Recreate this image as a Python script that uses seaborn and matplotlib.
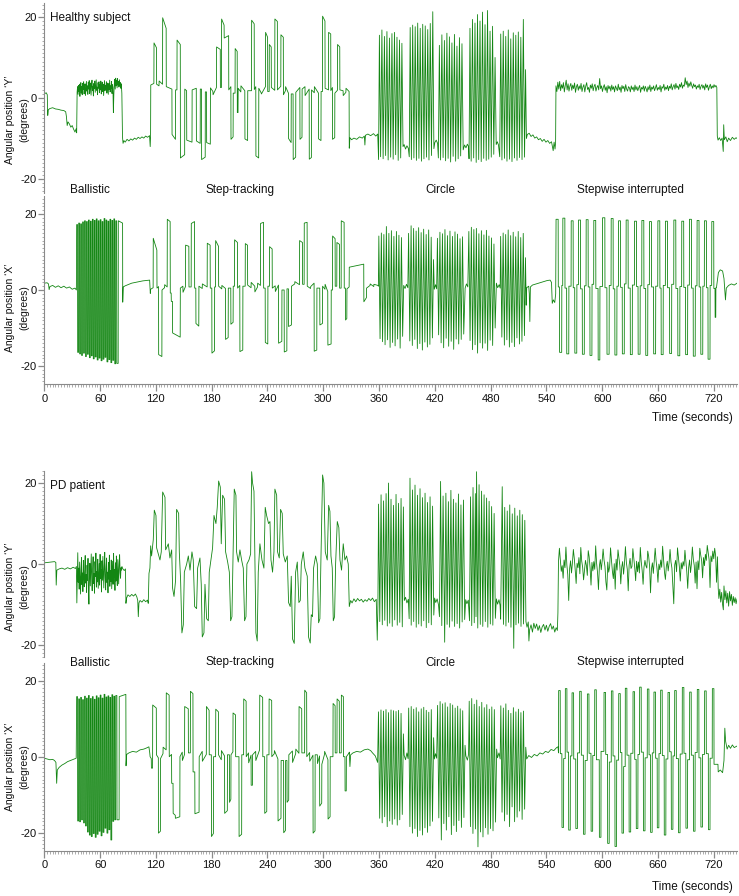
import numpy as np
import pandas as pd
import matplotlib
matplotlib.use("Agg")
import matplotlib.pyplot as plt
import seaborn as sns
from matplotlib.ticker import MultipleLocator

# angles in degrees, time in seconds
# pieces: (t, v) polylines, held levels (t, v[, v_end]) and evenly sampled noise bands

# ---------------- healthy subject, Y ----------------
hy_rest_a = [(0, 1.0), (2.0, 1.3), (3.2, 0.8), (3.7, -4.3), (4.3, -2.9), (6, -2.6), (9, -2.4),
             (12, -2.7), (15, -2.8), (18, -3.0), (21, -3.1), (23, -3.4), (23.8, -4.6), (24.6, -6.8),
             (25.5, -5.9), (27, -6.4), (28.5, -7.2), (30, -6.8), (31.5, -7.7), (33, -8.4),
             (34.2, -7.6), (34.8, -8.6)]
hy_ballistic_start = 35.3
hy_ballistic = [1.5, 2.8, 0.9, 3.1, 1.6, 3.4, 0.4, 2.6, 3.8, 1.2,
                2.9, 0.8, 3.6, 2.1, 4.0, 1.0, 2.7, 3.5, 0.6, 2.4,
                4.1, 1.7, 3.0, 0.9, 3.9, 2.2, 4.3, 1.1, 2.6, 3.7,
                0.7, 3.2, 4.4, 1.8, 2.9, 0.5, 3.6, 2.3, 4.2, 1.4,
                3.0, 4.5, 1.9, 2.7, 0.8, 3.8, 2.4, 4.0, 1.3, 3.3,
                2.0, 4.2, 1.0, 2.8, 3.9, 1.6, 3.4, 0.6, 2.5, 4.3,
                1.8, 3.1, 2.2, 4.0, 1.2, 2.9, 3.7, 0.9, 3.5, 2.1,
                4.4, 1.5, 3.0, 2.4, 4.1, 1.1, 3.3, 2.6, -3.6, 1.0,
                3.4, 4.6, 2.2, 4.9, 3.0, 4.4, 2.5, 4.8, 3.2, 4.1,
                2.7, 4.5, 3.0, 3.8, 2.4, 3.5]
hy_rest_b = [(83.4, 1.2), (84.1, -9.6), (84.7, -11.2), (85.6, -10.5), (87, -10.9), (89, -10.2),
             (91, -10.6), (93, -10.1), (95, -10.4), (97, -9.9), (99, -10.2), (101, -9.7),
             (103, -10.0), (105, -9.6), (107, -9.9), (109, -9.4), (111, -9.7), (113.2, -9.3),
             (113.9, -12.0), (114.3, -9.5)]
hy_step = [(114.5, 3.2, 3.6), (118.0, 13.6, 12.4), (120.8, 3.4, 3.0), (123.5, 4.2, 3.4),
           (127.3, 19.8, 17.2), (131.2, 2.8, 2.2), (137.4, -9.0, -10.2), (141.2, 2.0),
           (142.8, 14.3, 13.2), (146.4, -14.8, -14.0), (151.1, 2.2, 1.8), (153.2, -10.4, -10.9),
           (159.0, 2.0, 2.4), (163.6, -10.6, -11.2), (167.8, 2.2), (169.2, -15.2, -14.6),
           (173.2, 1.5), (174.6, -11.0, -11.4), (178.7, 2.5, 1.6), (181.5, 0.8, 2.6),
           (185.3, 12.6, 12.0), (189.4, 2.6), (190.7, 19.5, 18.0), (193.5, 14.8, 15.4),
           (198.4, 2.0, 2.8), (200.8, -10.2, -9.6), (203.2, 1.2), (205.3, 12.2, 11.5),
           (207.6, -3.6), (208.5, 2.4, 1.5), (211.5, 3.0, 1.8), (215.8, -10.1, -10.5),
           (218.8, 1.8), (223.0, 19.2, 18.3), (225.9, 2.1, 2.8), (227.6, -14.3, -14.8),
           (230.7, 2.4, 1.2), (233.5, 1.0, 2.8), (238.0, 16.2, 15.0), (240.3, 1.6),
           (242.0, 13.2, 12.6), (244.2, 2.6, 1.9), (248.0, 19.5, 18.9), (250.8, 2.0, 2.9),
           (254.5, 15.6, 15.0), (257.2, 0.8, 1.8), (259.5, 2.8, 1.2), (262.7, -10.0, -11.0),
           (265.6, 1.0), (267.7, -15.2, -14.6), (270.5, 1.4, 2.6), (275.0, -10.2, -9.7),
           (277.3, 2.2, 2.8), (280.5, 0.6, 2.2), (285.0, -15.1, -14.7), (287.4, 2.0, 1.3),
           (290.5, 2.8, 1.2), (295.0, -10.1, -10.5), (297.7, 1.6), (299.3, 20.2, 19.0),
           (302.0, 2.4, 2.0), (305.8, 16.2, 15.8), (308.2, 1.8, 2.6), (310.0, -10.2, -9.8),
           (312.5, 1.2, 1.9), (315.4, 13.2, 12.6), (317.9, 2.0, 1.8), (321.5, 0.6, 1.4),
           (324.5, 2.4, 1.6)]
hy_rest_c = [(328.0, -12.4), (328.7, -9.8), (330.5, -10.3), (333, -9.9), (336, -10.2), (339, -9.6),
             (342, -9.9), (344.2, -9.4), (344.8, -11.6), (345.4, -9.2), (348, -8.9), (351, -9.3),
             (354, -8.8), (356.5, -9.4), (358.6, -8.9)]
hy_circle = [(359.5, -15.2), (360.4, 15.5), (361.7, -14.5), (363.1, 16.8), (364.4, -15.0), (365.8, 15.2),
             (367.1, -14.2), (368.5, 16.4), (369.8, -15.3), (371.2, 14.8), (372.5, -14.6), (373.9, 15.9),
             (375.2, -15.1), (376.6, 16.2), (377.9, -14.0), (379.3, 15.0), (380.6, -15.4), (382.0, 14.3),
             (383.3, -14.8), (384.6, 13.5), (385.8, -12.0),
             (387.0, -11.5), (388.5, -12.6), (390.0, -11.8), (391.5, -12.4),
             (392.5, -14.5), (393.5, 17.4), (394.8, -15.2), (396.2, 18.0), (397.5, -14.8), (398.9, 17.6),
             (400.2, -15.4), (401.6, 18.5), (402.9, -14.9), (404.3, 17.2), (405.6, -15.6), (407.0, 18.2),
             (408.3, -15.0), (409.7, 17.8), (411.0, -14.6), (412.4, 16.9), (413.7, -15.3), (415.1, 18.4),
             (416.4, -14.2), (417.8, 21.3), (419.0, -12.5),
             (420.0, -11.0), (421.5, -10.4), (423.0, -11.2),
             (423.8, -14.8), (424.9, 13.0), (426.2, -15.3), (427.6, 15.6), (428.9, -14.7), (430.3, 14.2),
             (431.6, -15.5), (433.0, 16.0), (434.3, -14.9), (435.7, 15.1), (437.0, -15.8), (438.4, 13.6),
             (439.7, -14.4), (441.1, 15.7), (442.4, -15.6), (443.8, 12.8), (445.1, -15.0), (446.5, 14.9),
             (447.8, -14.3), (449.2, 13.4), (450.5, -12.8),
             (452.0, -11.6), (453.5, -12.3), (455.0, -11.4), (456.3, -12.0),
             (456.8, -15.0), (457.8, 17.2), (459.1, -15.6), (460.5, 19.4), (461.8, -14.8), (463.2, 18.5),
             (464.5, -15.9), (465.9, 20.6), (467.2, -15.2), (468.6, 19.0), (469.9, -15.7), (471.3, 21.2),
             (472.6, -14.9), (474.0, 18.1), (475.3, -15.4), (476.7, 21.6), (478.0, -15.1), (479.4, 16.5),
             (480.7, -14.6), (482.1, 17.7), (483.4, -13.9), (484.8, 10.0), (486.0, -11.5),
             (487.2, -10.8), (488.5, -11.6),
             (489.8, -14.5), (490.9, 15.8), (492.2, -15.3), (493.6, 16.5), (494.9, -14.9), (496.3, 15.2),
             (497.6, -15.6), (499.0, 16.8), (500.3, -15.1), (501.7, 14.6), (503.0, -15.7), (504.4, 16.1),
             (505.7, -14.8), (507.1, 15.5), (508.4, -15.4), (509.8, 16.3), (511.1, -14.7), (512.5, 15.0),
             (513.8, -15.2), (515.2, 19.4), (516.5, -14.6), (517.6, 7.0), (518.5, -10.0)]
hy_rest_d = [(519.5, -9.0), (521.5, -8.7), (523.5, -9.5), (525.5, -9.1), (527.5, -9.9), (529.5, -9.6),
             (531.5, -10.3), (533.5, -10.0), (535.5, -10.7), (537.5, -10.2), (539.5, -10.9),
             (541.5, -10.5), (543.5, -11.2), (545.5, -10.8), (547.3, -13.0), (548.3, -10.9),
             (549.3, -12.6), (549.9, -11.0)]
hy_stepwise_start = 550.3
hy_stepwise = [3.0, 1.6, 3.9, 2.2, 4.1, 1.8, 3.3, 2.4, 3.8, 1.5, 3.1, 4.4, 2.0, 3.5, 1.7, 2.9, 3.6, 1.9, 3.2, 2.3,
               3.7, 1.4, 2.8, 3.4, 1.9, 3.0, 2.2, 3.6, 1.6, 2.7, 3.3, 1.5, 2.9, 3.8, 2.1, 2.6, 1.4, 3.2, 2.4, 3.5,
               1.8, 2.9, 3.4, 1.7, 2.6, 3.1, 2.0, 4.8, 2.3, 3.0, 1.6, 2.7, 3.3, 1.9, 2.8, 1.3, 3.1, 2.2, 2.9, 1.7,
               3.2, 2.1, 2.8, 1.5, 3.0, 2.4, 1.8, 3.4, 2.0, 2.7, 1.4, 3.1, 2.3, 2.9, 1.6, 3.3, 2.2, 1.7, 2.8, 2.5,
               1.5, 3.0, 2.1, 2.7, 1.6, 3.2, 2.0, 2.8, 1.8, 2.5, 3.1, 1.4, 2.6, 2.2, 3.0, 1.7, 2.9, 2.3, 1.5, 2.8,
               2.0, 3.2, 1.6, 2.7, 2.2, 3.0, 1.8, 2.5, 3.3, 1.9, 2.6, 2.1, 3.1, 1.5, 2.8, 2.4, 3.4, 1.9, 2.7, 2.2,
               3.1, 1.8, 2.9, 2.4, 3.5, 2.0, 2.8, 3.3, 2.2, 3.6, 2.5, 3.0, 2.1, 3.4, 2.7, 3.8, 2.4, 3.2, 2.9, 5.0,
               3.3, 4.2, 2.6, 3.7, 2.9, 4.0, 3.1, 2.4, 3.5, 2.8, 3.2, 2.2, 3.0, 2.6, 3.4, 2.1, 2.9, 3.3, 2.4, 3.1,
               2.0, 3.5, 2.6, 3.2, 1.9, 2.8, 3.4, 2.3, 3.0, 2.5, 3.3, 2.7, 3.1, 2.6]
hy_rest_e = [(723.8, -9.4), (724.6, -10.4), (726, -9.8), (727.5, -10.5), (729, -9.9), (730.2, -13.2),
             (730.7, -6.6), (731.4, -10.3), (733, -9.6), (734.5, -10.8), (736, -9.9), (738, -10.5),
             (740, -9.7), (742, -10.2), (744, -9.8), (745, -10.0)]

# ---------------- healthy subject, X ----------------
hx_rest_a = [(0, 1.8), (3, 1.9), (4.5, 1.6), (5.2, 0.1), (6, 0.9), (9, 1.2), (12, 0.7), (15, 1.1),
             (18, 0.6), (21, 1.0), (24, 0.5), (27, 0.8), (30, 0.2), (33, 0.5), (34.5, 0.0)]
hx_ballistic = [(34.8, 17.2), (35.9, -16.4), (37.0, 17.6), (38.0, -16.8), (39.1, 17.4), (40.1, -17.2),
                (41.2, 17.9), (42.2, -16.6), (43.3, 18.2), (44.3, -17.5), (45.4, 18.0), (46.4, -16.9),
                (47.5, 18.4), (48.5, -17.8), (49.6, 18.1), (50.6, -17.3), (51.7, 18.6), (52.7, -18.1),
                (53.8, 18.3), (54.8, -17.6), (55.9, 18.7), (56.9, -18.4), (58.0, 18.2), (59.0, -17.9),
                (60.1, 18.5), (61.1, -18.6), (62.2, 18.0), (63.2, -18.2), (64.3, 18.8), (65.3, -17.7),
                (66.4, 18.4), (67.4, -18.9), (68.5, 18.1), (69.5, -18.3), (70.6, 18.6), (71.6, -19.1),
                (72.7, 18.3), (73.7, -18.5), (74.8, 18.7), (75.8, -19.4), (76.9, 18.2), (78.0, -19.3),
                (79.6, 18.2, 17.6)]
hx_rest_b = [(84.35, -3.2), (84.9, 0.8), (87, 1.1), (90, 1.4), (94, 1.8), (98, 2.0), (102, 2.2),
             (106, 2.4), (110, 2.5), (113.3, 2.6), (114.0, -0.9)]
hx_step = [(114.4, 0.2, 0.6), (117.2, 13.6, 10.5), (121.2, 0.5, 0.9), (123.0, -17.0, -17.5),
           (126.6, 0.0, 0.6), (129.5, 1.4, 0.8), (132.3, 18.6, 18.0), (135.5, -0.8), (136.6, -3.0),
           (138.0, -11.3, -12.4), (146.3, 0.5, 1.0), (149.2, -0.6, 0.9), (152.0, 11.8, 11.5),
           (155.6, 0.8), (158.1, 17.5, 18.0), (161.7, 0.5), (163.1, -8.8, -9.5), (166.3, 1.0, 0.4),
           (170.0, 1.6, 0.8), (175.3, 12.3, 11.8), (178.5, 0.5), (180.3, -16.6, -16.0), (183.2, 0.8),
           (184.3, 13.0, 11.5), (187.5, 1.0, 0.3), (191.0, 1.2, 0.4), (195.0, -13.0, -12.5),
           (197.9, 0.5), (200.7, -9.0, -8.5), (203.2, 1.0), (204.7, 13.2, 12.5), (207.9, 0.5, 1.2),
           (210.4, -16.2, -15.8), (213.6, 1.0), (216.2, 12.2, 11.8), (218.7, 1.3, 0.6),
           (222.5, 2.0, 1.0), (226.5, -0.5, 0.8), (229.5, 1.8, 1.2), (232.6, 17.5, 17.8),
           (235.9, 0.5), (237.7, -13.8, -14.2), (240.5, 1.0), (242.3, 11.4, 10.8), (245.2, 0.5, 1.1),
           (248.5, -0.4, 1.3), (252.0, -14.0, -13.5), (255.6, 0.0), (258.1, -16.3, -16.0),
           (261.0, 0.3), (262.7, -9.6, -9.2), (265.9, 1.0, 1.6), (269.5, 2.2, 1.4),
           (274.6, 13.0, 12.5), (277.8, 1.5), (279.6, 17.6, 17.8), (282.8, 1.0, 0.4),
           (286.5, 0.9, 1.8), (290.3, -16.1, -15.8), (293.2, 0.5), (296.4, -9.2, -8.8),
           (299.3, 1.0, 0.2), (302.0, 1.5, -0.4), (305.0, -14.5, -14.2), (308.6, 0.0),
           (310.1, 14.2, 13.5), (312.9, 1.0), (314.7, 12.5, 12.0), (317.6, 0.5), (319.4, 18.2, 17.8),
           (322.6, 0.5), (324.0, -7.9, -7.5), (325.5, 0.3, 0.8), (328.0, 6.0, 6.8),
           (343.7, -3.1, -2.0), (346.6, 0.5, 1.2), (350.5, 1.6, 0.9), (354.5, 1.5, 1.2)]
hx_circle = [(359.3, 1.0), (359.8, 14.2), (361.1, -12.8), (362.5, 15.0), (363.8, -13.6), (365.2, 14.6),
             (366.5, -14.4), (367.9, 16.7), (369.2, -13.1), (370.6, 14.9), (371.9, -15.1), (373.3, 15.6),
             (374.6, -13.8), (376.0, 14.1), (377.3, -14.7), (378.7, 15.4), (380.0, -12.9), (381.4, 14.4),
             (382.7, -15.3), (384.1, 13.8), (385.4, -12.2), (386.5, 1.2),
             (388.0, 0.4), (389.5, 1.5), (391.0, 0.6),
             (391.8, 14.9), (393.1, -13.4), (394.5, 16.9), (395.8, -14.6), (397.2, 16.2), (398.5, -13.0),
             (399.9, 15.5), (401.2, -15.4), (402.6, 16.4), (403.9, -14.1), (405.3, 15.1), (406.6, -15.8),
             (408.0, 16.0), (409.3, -13.7), (410.7, 14.6), (412.0, -15.0), (413.4, 15.8), (414.7, -14.3),
             (416.1, 13.9), (417.4, -12.6), (418.6, 8.0), (419.4, 0.2),
             (420.8, 1.4), (422.0, 0.3),
             (422.8, 13.6), (424.1, -11.8), (425.5, 15.2), (426.8, -13.9), (428.2, 14.8), (429.5, -15.2),
             (430.9, 15.9), (432.2, -12.7), (433.6, 14.3), (434.9, -14.8), (436.3, 15.5), (437.6, -13.5),
             (439.0, 14.1), (440.3, -15.6), (441.7, 15.3), (443.0, -12.9), (444.4, 14.7), (445.7, -14.2),
             (447.1, 13.5), (448.4, -13.0), (449.8, 14.0), (451.1, -11.6), (452.6, 0.5),
             (454.0, 1.6), (455.5, 0.8),
             (456.6, 15.4), (457.9, -13.3), (459.3, 16.5), (460.6, -15.7), (462.0, 15.9), (463.3, -14.4),
             (464.7, 16.2), (466.0, -16.6), (467.4, 14.8), (468.7, -13.9), (470.1, 15.6), (471.4, -15.3),
             (472.8, 14.5), (474.1, -14.0), (475.5, 15.7), (476.8, -15.9), (478.2, 14.2), (479.5, -13.2),
             (480.9, 13.7), (482.2, -14.6), (483.6, 12.1), (484.9, -10.0), (486.2, 1.8),
             (487.6, 0.6), (489.2, 1.4), (490.3, 0.5),
             (490.8, 14.1), (492.1, -12.4), (493.5, 15.0), (494.8, -14.5), (496.2, 14.6), (497.5, -13.1),
             (498.9, 15.8), (500.2, -15.0), (501.6, 14.3), (502.9, -13.8), (504.3, 15.2), (505.6, -14.9),
             (507.0, 14.0), (508.3, -12.6), (509.7, 15.4), (511.0, -14.2), (512.4, 13.8), (513.7, -13.5),
             (515.1, 14.9), (516.4, -12.0), (517.5, 8.5), (518.3, -4.0)]
hx_rest_c = [(518.8, 0.6), (521.0, 1.0), (521.6, -1.0), (522.2, -8.3), (522.8, 0.8), (525, 1.3),
             (529, 1.6), (533, 1.9), (537, 2.2), (541, 2.5), (544, 2.6), (545.5, 2.0), (546.3, -3.5),
             (547.5, -2.6), (549, -3.3), (550.0, -1.0)]
hx_stepwise = [(550.4, 18.6), (552.8, 0.8), (554.2, -16.4), (556.6, 1.2),
               (557.7, 18.9), (560.0, 0.5), (561.9, -16.8), (564.2, 1.0),
               (566.7, 18.2), (568.9, 0.6), (570.6, -16.6), (572.8, 1.4),
               (574.6, 18.4), (576.8, 0.3), (578.7, -16.9), (580.9, 1.1),
               (582.8, 18.5), (585.0, 0.8), (586.9, -17.2), (589.1, 1.5),
               (591.0, 18.3), (593.2, 0.4), (595.7, -18.4), (597.6, 0.9),
               (600.4, 19.0), (603.0, 0.6), (605.2, -16.9), (607.6, 1.2),
               (609.7, 18.8), (611.9, 0.3), (613.7, -17.1), (615.9, 1.0),
               (617.6, 18.2), (619.8, 0.7), (621.7, -16.8), (623.9, 1.6),
               (625.8, 18.4), (628.0, 0.5), (630.3, -17.0), (632.5, 1.3),
               (634.8, 18.1), (637.0, 0.9), (638.7, -16.9), (640.9, 1.1),
               (642.7, 18.3), (644.9, 0.4), (646.9, -17.2), (649.1, 1.4),
               (650.9, 18.0), (653.1, 0.8), (655.4, -16.8), (657.6, 1.0),
               (659.9, 18.2), (662.1, 0.5), (663.5, -17.0), (665.7, 1.2),
               (668.1, 18.1), (670.3, 0.6), (672.6, -16.7), (674.8, 1.5),
               (677.1, 18.4), (679.3, 0.4), (681.4, -17.3), (683.6, 0.9),
               (685.6, 18.1), (687.8, 0.7), (689.8, -17.0), (692.0, 1.3),
               (693.9, 18.6), (696.1, 0.5), (698.0, -17.4), (700.2, 1.1),
               (702.1, 18.3), (704.3, 0.8), (706.1, -16.9), (708.3, 1.0),
               (710.0, 18.2), (712.2, 0.6), (713.9, -18.2), (716.1, 1.2),
               (717.9, 18.0), (720.1, 0.4), (721.5, -7.2), (722.3, 0.6)]
hx_rest_d = [(723.0, 0.8), (725.0, 4.6), (727, 5.3), (729.5, 5.0), (731, 3.0), (732.6, -2.6),
             (733.5, 0.5), (736, 1.2), (739, 1.6), (742, 1.3), (745, 1.8)]

# ---------------- PD patient, Y ----------------
pdy_rest_a = [(0, 0.3), (4, 0.4), (8, 0.5), (11, 0.6), (12.4, 0.4), (12.8, -5.2), (13.5, -1.5),
              (16, -1.2), (19, -1.0), (22, -1.3), (25, -0.9), (28, -1.2), (31, -0.8), (33.5, -1.1),
              (34.5, -0.6)]
pdy_ballistic_start = 35.0
pdy_ballistic = [-9.6, -3.0, 2.8, -4.5, -1.0, -6.2, 0.5, -3.8, -7.4, -1.5,
                 1.6, -5.1, -2.2, -6.8, 0.9, -3.4, -5.6, -0.8, 2.1, -4.7,
                 -2.6, -7.0, -0.3, -4.1, 1.4, -6.3, -9.9, -2.9, 0.2, -5.4,
                 -1.7, 2.5, -3.9, -6.6, -1.2, 1.8, -4.8, -2.4, -7.2, 0.6,
                 -3.1, 2.7, -5.7, -1.9, -4.4, 1.2, -6.0, -2.7, 0.1, -5.2,
                 2.4, -3.6, -1.4, -6.9, 0.8, -4.0, 1.9, -2.3, -5.9, -0.6,
                 2.9, -3.3, -6.4, -1.1, 1.5, -4.6, -2.0, -7.1, 0.4, -3.7,
                 2.2, -5.5, -1.6, -4.3, 1.0, -6.1, -2.5, 0.7, -5.0, 2.6,
                 -3.2, -1.3, -6.5, 0.3, -4.2, 2.0, -2.8, -5.3, 1.1, -1.8,
                 -4.9, 0.5, 2.3, -2.1, -3.5, -0.9, -1.5]
pdy_rest_b = [(83.5, -0.6), (84.5, -1.2), (86, -1.6), (87.3, -1.2), (87.8, -9.7), (88.5, -8.4),
              (90, -7.6), (92, -8.0), (94, -7.5), (96, -7.9), (98, -7.4), (99.5, -8.1), (100.5, -9.0),
              (101.1, -13.0), (101.8, -9.6), (103, -9.0), (105, -9.4), (107, -8.8), (109, -9.3),
              (111, -8.9), (111.8, -9.7)]
pdy_step = [(112.6, -2.3), (113.6, -1.0), (114.4, 4.5), (115.4, 2.0), (117.2, 6.0), (118.3, 13.3),
            (120.1, 12.0), (120.8, 4.0), (122.6, 2.5), (124.4, 1.0), (125.8, 3.0), (127.3, 17.8),
            (129.8, 16.5), (130.5, 3.5), (133.4, 5.0), (135.1, 1.5), (137.0, 3.5), (138.0, -6.0),
            (139.5, -8.0), (141.2, -4.0), (142.3, 13.5), (144.5, 12.5), (145.2, 3.0), (146.6, -4.0),
            (148.0, -17.0), (149.5, -15.0), (150.6, -2.0), (153.1, 0.0), (154.9, 2.0), (156.7, -1.5),
            (158.8, 3.0), (160.2, 1.0), (161.7, -10.5), (163.8, -11.0), (164.9, -1.0), (167.4, 1.5),
            (168.8, -5.0), (169.9, -18.0), (171.7, -17.0), (172.8, -5.0), (174.6, -13.5), (176.4, -14.0),
            (177.4, -2.0), (179.2, 1.0), (181.0, 4.0), (182.5, 12.0), (184.6, 10.0), (186.0, 14.0),
            (187.5, 20.5), (189.3, 19.0), (190.3, 5.0), (191.8, 17.0), (193.9, 16.0), (195.0, 3.0),
            (197.2, 0.5), (199.0, -2.0), (200.4, -14.0), (201.8, -13.0), (202.9, 1.0), (204.3, 18.5),
            (206.1, 17.0), (206.8, 3.0), (208.6, 0.5), (210.4, 3.5), (212.2, 1.0), (214.0, -1.0),
            (215.4, -14.0), (216.9, -13.0), (217.9, 0.0), (220.1, 1.0), (221.9, 2.5), (223.0, 22.8),
            (224.0, 20.0), (225.5, 18.0), (226.5, 2.0), (227.6, -17.0), (229.0, -19.0), (230.1, -2.0),
            (231.9, 5.0), (234.1, 1.0), (236.2, -1.0), (237.6, 14.0), (239.1, 12.0), (241.2, 10.0),
            (242.7, 10.5), (243.8, 1.0), (245.5, -2.0), (247.0, 3.0), (248.0, 18.5), (249.9, 17.0),
            (250.9, 3.0), (252.7, 1.5), (254.1, 13.5), (255.9, 12.5), (257.0, 2.5), (259.2, 0.5),
            (261.3, 2.0), (262.7, -9.5), (264.5, -10.5), (265.6, -3.0), (267.0, -18.5), (268.8, -19.6),
            (270.3, -2.0), (272.1, 0.5), (273.8, -9.5), (275.3, -9.0), (276.4, 0.0), (278.5, 3.0),
            (280.3, -1.0), (282.8, -3.0), (284.2, -18.0), (286.0, -19.5), (287.1, -12.5), (288.5, -13.0),
            (289.6, -1.0), (291.8, 2.0), (293.6, 0.0), (295.0, -14.5), (296.4, -13.5), (297.5, 1.0),
            (299.3, 22.0), (300.7, 20.0), (302.2, 3.0), (304.3, 1.0), (305.8, 14.5), (307.2, 13.0),
            (308.3, 2.0), (309.7, -1.0), (310.8, -14.0), (312.2, -13.0), (313.3, 0.0), (315.1, 10.5),
            (316.8, 9.0), (318.0, 1.0), (319.7, -1.5), (321.5, 5.0), (323.3, 1.0), (325.1, 2.0),
            (326.9, 0.0), (328.0, -10.5)]
pdy_rest_c = [(329.5, -9.0), (331, -9.6), (333, -8.6), (335, -9.3), (337, -8.5), (339, -9.1),
              (341, -8.7), (343, -9.4), (345, -8.8), (347, -9.2), (349, -8.5), (351, -9.0),
              (353, -8.4), (355, -9.3), (357, -8.7), (358.1, -18.8), (358.8, -10.0)]
pdy_circle = [(359.5, 14.8), (360.8, -14.2), (362.2, 17.1), (363.5, -15.0), (364.9, 15.6), (366.2, -13.9),
              (367.6, 17.4), (368.9, -15.3), (370.2, 20.0), (371.5, -14.6), (372.9, 16.0), (374.2, -15.4),
              (375.6, 14.5), (376.9, -13.8), (378.3, 17.2), (379.6, -15.1), (381.0, 15.0), (382.3, -14.4),
              (383.7, 16.2), (385.0, -15.5), (386.2, 14.1), (387.2, -9.0),
              (388.5, -8.2), (390.0, -9.6), (391.5, -8.7),
              (392.4, -13.5), (393.3, 21.2), (394.6, -15.1), (396.0, 18.3), (397.3, -14.2), (398.7, 19.5),
              (400.0, -15.6), (401.4, 17.0), (402.7, -14.8), (404.1, 18.6), (405.4, -15.3), (406.8, 16.4),
              (408.1, -14.0), (409.5, 17.5), (410.8, -15.7), (412.2, 15.2), (413.5, -14.5), (414.9, 16.6),
              (416.2, -15.0), (417.6, 14.3), (418.9, -12.6), (419.8, -8.4),
              (421.0, -9.5), (422.5, -8.6), (424.0, -10.1),
              (425.0, -13.0), (426.2, 20.4), (427.5, -15.2), (428.9, 16.8), (430.6, -19.3), (431.9, 17.5),
              (433.2, -14.9), (434.6, 15.4), (435.9, -15.6), (437.3, 18.2), (438.6, -14.1), (440.0, 16.0),
              (441.3, -15.4), (442.7, 15.1), (444.0, -14.7), (445.4, 17.3), (446.7, -15.8), (448.1, 14.6),
              (449.4, -14.3), (450.8, 15.8), (452.1, -13.7), (453.2, -8.8),
              (454.5, -9.8), (456.0, -8.9),
              (457.3, -14.0), (458.4, 16.6), (459.7, -15.2), (461.1, 18.9), (462.4, -14.5), (463.6, 17.4),
              (464.3, -13.0), (464.9, 22.8), (466.2, -15.8), (467.6, 19.6), (468.9, -14.9), (470.3, 18.0),
              (471.6, -15.4), (473.0, 17.1), (474.3, -14.2), (475.7, 16.3), (477.0, -15.6), (478.4, 15.5),
              (479.7, -14.8), (481.1, 14.2), (482.4, -15.1), (483.8, 12.5), (485.1, -13.4), (486.2, -8.6),
              (487.5, -9.9), (489.0, -8.8), (490.2, -10.2),
              (490.8, -13.6), (492.5, 19.1), (493.8, -14.9), (495.2, 14.0), (496.5, -15.3), (497.9, 13.1),
              (499.2, -14.4), (500.6, 14.6), (501.9, -15.6), (503.3, 12.4), (504.9, -20.8), (506.0, 13.8),
              (507.3, -15.0), (508.7, 11.9), (510.0, -14.6), (511.4, 13.3), (512.7, -15.4), (514.1, 12.2),
              (515.4, -14.8), (516.8, 10.8), (518.0, -14.2)]
pdy_rest_d = [(519.2, -15.6), (520.5, -14.3), (521.2, -19.0), (522, -16.2), (523.5, -15.0), (525, -16.8),
              (526.5, -14.6), (528, -15.9), (529.5, -14.8), (531, -16.4), (532.5, -15.2), (534, -16.9),
              (535.5, -15.5), (537, -14.9), (538.5, -16.3), (540, -15.1), (541.5, -16.6), (543, -15.4),
              (544.5, -14.7), (546, -16.1), (547.5, -15.3), (549, -16.8), (550.5, -15.7), (551.8, -16.4),
              (552.4, -12.0)]
pdy_stepwise_start = 553.0
pdy_stepwise = [0.6, 3.9, 1.2, -1.8, -0.4, -3.5, 1.0, -0.9,
                4.2, -0.2, -2.6, -9.0, -1.1, 0.8, -2.2, 0.3,
                3.6, 1.4, -1.5, -4.8, 0.2, -0.9, 1.6, -2.4,
                4.1, 0.7, -0.8, -3.9, -1.6, 0.9, -0.3, -2.8,
                3.3, 1.8, -1.0, -5.2, 0.4, -1.7, 0.6, -1.3,
                4.5, 0.2, -2.1, -6.3, -0.5, 1.1, -1.4, 0.8,
                3.7, 1.0, -0.6, -4.4, -6.4, 0.5, -2.0, -0.7,
                4.0, 0.9, -1.8, -3.6, 0.1, -6.2, 1.2, -1.5,
                3.5, 1.6, -0.4, -4.9, -0.8, 0.6, -2.5, 0.2,
                4.3, 0.4, -1.3, -6.6, -0.2, 1.4, -1.1, -0.6,
                3.8, 1.3, -0.9, -4.1, 0.7, -1.9, 0.5, -2.2,
                4.1, 0.6, -1.6, -5.0, -0.7, 0.9, -0.4, -1.0,
                3.2, 1.9, -0.5, -7.1, -1.2, 0.3, -2.3, 0.7,
                3.9, 0.8, -1.2, -4.5, 0.0, -1.4, 1.0, -0.8,
                4.4, 1.1, -2.0, -3.8, -0.6, 0.7, -1.7, 0.4,
                3.6, 0.5, -1.0, -5.6, -9.8, -0.2, 0.9, -1.9,
                4.0, 1.5, -0.7, -4.2, 0.3, -1.2, 0.6, -0.5,
                3.4, 0.9, -1.9, -6.0, -0.9, 1.0, -2.1, 0.1,
                4.2, 1.2, -0.3, -4.7, 0.5, -6.1, 0.8, -1.4,
                3.9, 2.2, 0.8, -3.4, 1.6, -0.4, 2.4, 0.9,
                4.6, 2.8, 1.1, -5.8, 2.0, 0.6, 3.2, 1.3,
                3.9, 2.1, -4.5, 1.8]
pdy_rest_e = [(724.8, -6.0), (725.5, -8.5), (726.5, -6.2), (727.5, -9.4), (728.5, -7.0), (729.5, -10.0),
              (730.3, -11.3), (731, -5.4), (732, -8.8), (733, -6.6), (734, -9.6), (735, -7.2),
              (736, -10.4), (737, -6.8), (738, -9.1), (739, -7.5), (740, -10.2), (741, -8.0),
              (742, -9.5), (743, -8.3), (744, -9.8), (745, -8.6)]

# ---------------- PD patient, X ----------------
pdx_rest_a = [(0, -0.4), (3, -0.6), (6, -0.8), (9, -0.7), (11, -1.0), (12.5, -1.5), (13.3, -7.0),
              (14, -3.5), (16, -2.8), (19, -2.2), (22, -1.8), (25, -1.3), (28, -1.0), (31, -0.7),
              (34.3, -0.4)]
pdx_ballistic = [(34.8, 15.8), (35.9, -16.9), (37.0, 15.2), (38.0, -17.1), (39.1, 15.6), (40.1, -16.6),
                 (41.2, 15.0), (42.2, -17.4), (43.3, 15.9), (44.3, -18.2), (45.4, 15.4), (46.4, -19.8),
                 (47.5, 16.1), (48.5, -20.6), (49.6, 15.3), (50.6, -21.0), (51.7, 15.8), (52.7, -20.2),
                 (53.8, 15.1), (54.8, -21.2), (55.9, 16.0), (56.9, -20.4), (58.0, 15.5), (59.0, -19.6),
                 (60.1, 16.2), (61.1, -20.8), (62.2, 15.4), (63.2, -19.9), (64.3, 16.4), (65.3, -18.8),
                 (66.4, 15.7), (67.4, -20.1), (68.5, 16.0), (69.5, -19.2), (70.6, 15.6), (71.6, -21.9),
                 (72.7, 16.3), (73.7, -17.0), (74.8, 15.9), (75.8, -16.6), (76.9, 16.1), (78.2, -16.6),
                 (80.6, 15.8, 16.4)]
pdx_rest_b = [(87.9, -2.4), (88.6, 0.6), (91, 1.0), (95, 1.4), (99, 1.2), (103, 1.8), (107, 2.0),
              (110, 2.3), (112.5, 2.6), (113.4, 1.0)]
pdx_step = [(113.8, 0.0, -0.5), (115.2, -3.0), (116.6, 13.6, 12.8), (120.6, 0.5, -0.3),
            (122.8, -20.1, -19.6), (125.0, -0.5, 0.8), (127.8, 2.5, 1.8), (131.2, 16.8, 16.2),
            (134.4, 0.0, 0.6), (137.0, -7.0), (138.6, -14.9, -15.4), (141.0, -16.2, -15.8),
            (145.9, 0.0, 1.2), (148.5, -1.0, 0.6), (151.0, 13.2, 12.6), (155.0, 1.0),
            (157.2, 17.2, 16.6), (160.0, -4.0), (162.0, -15.0, -14.6), (166.6, 0.0, 1.4),
            (170.0, -1.2, 0.6), (174.4, 13.2, 12.2), (177.4, 0.5), (179.8, -21.0, -20.2), (182.0, 0.0),
            (184.4, 12.5, 11.8), (187.4, 0.5, -0.8), (190.5, 1.6, 0.2), (194.0, -14.9, -14.2),
            (197.0, 0.5), (199.2, -12.0, -11.2), (200.8, 0.5, 1.3), (203.0, 11.5, 11.0), (205.8, 0.0),
            (209.5, -21.0, -20.4), (212.4, 0.5), (214.5, 15.2, 14.6), (217.2, 0.0, 1.0),
            (219.8, -1.6, 0.4), (222.5, -7.5), (224.0, 0.5, 1.4), (227.5, -1.0, 1.8),
            (231.7, 16.2, 15.6), (235.0, 0.0), (237.1, -14.9, -14.4), (239.4, 0.5), (241.8, 15.2, 14.8),
            (244.7, 0.0, 0.8), (247.5, 1.6, -0.6), (251.4, -16.9, -16.2), (254.7, -1.0),
            (257.5, -20.0, -19.4), (259.5, -1.0), (261.1, -12.0, -11.4), (263.0, 0.5, 1.5),
            (267.0, -1.5, 0.8), (270.5, 2.0, 0.9), (274.0, 13.2, 12.6), (277.0, 1.0),
            (280.1, 17.5, 16.8), (282.3, 0.0, 1.1), (285.5, -1.2, 0.4), (289.1, -20.1, -19.5),
            (291.3, 0.5), (293.8, -1.8, 0.2), (296.2, -13.0, -12.2), (298.5, -2.0, 0.6),
            (301.5, 1.4, -0.8), (305.2, -16.4, -15.8), (307.5, 0.0), (310.6, 14.0, 13.4), (312.9, 1.0),
            (314.9, 15.2, 14.6), (317.4, 1.0), (319.5, 16.2, 15.8), (321.8, 0.0), (323.5, -9.0),
            (324.9, 0.0, 1.0)]
pdx_rest_c = [(328.0, 1.2), (328.7, -2.6), (329.5, 0.5), (332, 1.0), (336, 1.4), (340, 1.2), (344, 1.8),
              (348, 2.0), (351, 1.6), (353, 1.0), (356, 0.2), (358.5, -1.5)]
pdx_circle = [(359.4, 11.8), (360.7, -16.2), (362.1, 12.3), (363.4, -17.4), (364.8, 12.0), (366.1, -15.8),
              (367.5, 12.4), (368.8, -18.4), (370.2, 11.6), (371.5, -16.9), (372.9, 12.3), (374.2, -17.8),
              (375.6, 12.1), (376.9, -16.4), (378.3, 11.9), (379.6, -18.0), (381.0, 12.2), (382.3, -16.6),
              (383.7, 11.4), (385.0, -15.2), (386.2, 6.0), (387.0, 0.4),
              (388.5, -0.8), (390.0, 1.0), (391.2, -0.5),
              (391.9, 12.8), (393.2, -18.4), (394.6, 13.2), (395.9, -20.1), (397.3, 12.5), (398.6, -18.9),
              (400.0, 12.9), (401.3, -21.0), (402.7, 11.8), (404.0, -19.4), (405.4, 12.6), (406.7, -20.6),
              (408.1, 13.0), (409.4, -18.7), (410.8, 12.2), (412.1, -19.9), (413.5, 11.7), (414.8, -18.2),
              (416.2, 12.4), (417.5, -17.0), (418.7, 5.0), (419.5, -0.6),
              (420.8, 0.8), (422.0, -0.4),
              (423.0, 13.5), (424.3, -16.1), (425.7, 14.5), (427.0, -21.9), (428.4, 13.9), (429.7, -17.6),
              (431.1, 14.2), (432.4, -19.3), (433.8, 13.1), (435.1, -15.8), (436.5, 14.0), (437.8, -20.5),
              (439.2, 13.6), (440.5, -18.1), (441.9, 12.8), (443.2, -19.7), (444.6, 13.3), (445.9, -16.8),
              (447.3, 12.6), (448.6, -18.6), (450.0, 12.1), (451.3, -16.0), (452.5, 3.0), (453.4, 0.2),
              (455.0, -0.9), (456.3, 0.6),
              (457.0, 14.6), (458.3, -18.4), (459.7, 15.3), (461.0, -20.2), (462.4, 13.8), (463.7, -19.0),
              (465.1, 14.9), (466.4, -23.7), (467.8, 13.2), (469.1, -19.8), (470.5, 14.3), (471.8, -21.1),
              (473.2, 12.9), (474.5, -18.7), (475.9, 13.7), (477.2, -20.4), (478.6, 12.5), (479.9, -18.9),
              (481.3, 13.1), (482.6, -19.5), (484.0, 12.4), (485.3, -17.2), (486.5, 2.0), (487.4, -0.3),
              (489.0, 1.0), (490.3, -0.6),
              (491.0, 13.4), (492.3, -14.6), (493.7, 12.8), (495.0, -16.9), (496.4, 13.9), (497.7, -15.2),
              (499.1, 12.2), (500.4, -18.4), (501.8, 11.4), (503.1, -13.2), (504.5, 12.9), (505.8, -17.1),
              (507.2, 11.8), (508.5, -15.9), (509.9, 12.5), (511.2, -14.3), (512.6, 11.6), (513.9, -16.5),
              (515.3, 12.0), (516.6, -13.8), (517.8, 2.5)]
pdx_rest_d = [(518.8, -0.6), (521, 0.3), (524, -0.2), (527, 0.6), (530, 0.2), (533, 1.0), (536, 0.7),
              (539, 1.4), (542, 1.1), (545, 1.9), (548, 1.6), (551, 2.4), (552.5, 2.6), (553.0, 1.0)]
pdx_stepwise = [(553.2, 17.4), (555.0, 0.8), (556.8, -18.6), (558.6, -0.5),
                (560.4, 17.9), (562.2, 1.2), (564.0, -19.3), (565.8, 0.2),
                (567.6, 16.8), (569.4, -0.6), (571.7, -18.9), (573.5, 1.0),
                (575.8, 17.2), (577.6, 0.4), (579.9, -20.4), (581.7, -1.0),
                (584.1, 16.5), (585.9, 0.9), (588.1, -19.6), (589.9, 0.3),
                (592.0, 17.6), (593.8, -0.8), (597.0, -21.2), (598.8, 1.4),
                (602.0, 16.9), (603.8, 0.6), (605.9, -22.8), (607.7, -1.4),
                (609.9, 17.3), (611.7, 0.2), (613.8, -23.6), (615.6, -0.9),
                (617.8, 16.6), (619.6, 1.1), (621.3, -20.1), (623.1, -2.6),
                (624.9, 18.0), (626.7, 0.4), (629.0, -19.8), (630.8, 0.9),
                (633.2, 17.1), (635.0, -0.7), (636.7, -18.9), (638.5, 0.6),
                (640.3, 18.3), (642.1, 1.2), (644.4, -19.5), (646.2, -0.3),
                (648.6, 17.8), (650.4, 0.5), (652.1, -19.9), (653.9, 1.0),
                (655.7, 17.0), (657.5, -0.4), (659.3, -18.7), (661.1, 0.8),
                (662.9, 17.5), (664.7, 0.3), (666.8, -20.6), (668.6, -0.6),
                (670.8, 16.9), (672.6, 1.3), (674.4, -19.1), (676.2, 0.2),
                (678.0, 17.4), (679.8, -0.5), (682.1, -20.0), (683.9, 0.7),
                (686.2, 18.2), (688.0, 0.9), (690.1, -18.8), (691.9, -0.8),
                (694.1, 17.0), (695.9, 0.4), (698.2, -19.6), (700.0, 1.1),
                (702.3, 17.7), (704.1, -0.3), (706.2, -18.5), (708.0, 0.6),
                (710.2, 17.3), (712.0, 0.8), (714.3, -19.2), (716.1, -0.4),
                (718.5, 17.9), (720.3, -2.0)]
pdx_rest_e = [(724.8, -4.0), (727, -3.5), (729.5, -4.2), (731.0, -1.0), (731.9, 7.5), (732.8, 4.0),
              (734.4, 2.0), (736, 3.0), (738, 2.2), (740, 3.1), (742, 2.4), (745, 2.8)]

task_names = ["Ballistic", "Step-tracking", "Circle", "Stepwise interrupted"]
task_centres_px = [89.5, 240.5, 440, 630.5]

GREEN = "#138613"
GREY = "#8a8a8a"
W, H = 739, 896


def line_pts(pts):
    return [p[0] for p in pts], [p[1] for p in pts]


def held(steps, t_end, ramp=0.15):
    ts, vs = [], []
    for i, s in enumerate(steps):
        t1 = steps[i + 1][0] - ramp if i + 1 < len(steps) else t_end
        ts += [s[0], t1]
        vs += [s[1], s[-1]]
    return ts, vs


def band(t0, vals, dt):
    return list(t0 + dt * np.arange(len(vals))), list(vals)


def trace(*pieces):
    t, v = [], []
    for pt, pv in pieces:
        t += list(pt)
        v += list(pv)
    return pd.DataFrame({"t": t, "angle": v})


healthy_y = trace(line_pts(hy_rest_a), band(hy_ballistic_start, hy_ballistic, 0.5), line_pts(hy_rest_b),
                  held(hy_step, 327.8), line_pts(hy_rest_c), line_pts(hy_circle), line_pts(hy_rest_d),
                  band(hy_stepwise_start, hy_stepwise, 1.0), line_pts(hy_rest_e))
healthy_x = trace(line_pts(hx_rest_a), held(hx_ballistic, 84.2), line_pts(hx_rest_b),
                  held(hx_step, 358.9), line_pts(hx_circle), line_pts(hx_rest_c),
                  held(hx_stepwise, 722.8), line_pts(hx_rest_d))
pd_y = trace(line_pts(pdy_rest_a), band(pdy_ballistic_start, pdy_ballistic, 0.5), line_pts(pdy_rest_b),
             line_pts(pdy_step), line_pts(pdy_rest_c), line_pts(pdy_circle), line_pts(pdy_rest_d),
             band(pdy_stepwise_start, pdy_stepwise, 1.0), line_pts(pdy_rest_e))
pd_x = trace(line_pts(pdx_rest_a), held(pdx_ballistic, 87.7), line_pts(pdx_rest_b),
             held(pdx_step, 327.8), line_pts(pdx_rest_c), line_pts(pdx_circle), line_pts(pdx_rest_d),
             held(pdx_stepwise, 724.5), line_pts(pdx_rest_e))

sns.set_style("ticks")
plt.rcParams["font.family"] = ["Liberation Sans", "DejaVu Sans"]
plt.rcParams["axes.unicode_minus"] = False


def fig_xy(x, y):
    return x / W, 1 - y / H


fig = plt.figure(figsize=(W / 100, H / 100), dpi=100)

# (data, top px, bottom px, y-limits, zero px, show time axis, axis letter)
panels = [
    (healthy_y, 2.8, 193.2, (-23.5, 23.5), "Y", False, 120),
    (healthy_x, 196.1, 383.9, (-24.7, 24.7), "X", True, 308),
    (pd_y, 470.9, 657.2, (-23.0, 23.0), "Y", False, 587),
    (pd_x, 662.8, 850.6, (-24.7, 24.7), "X", True, 767),
]

for df, top, bottom, ylim, letter, show_x, label_y in panels:
    ax = fig.add_axes([44.3 / W, 1 - bottom / H, (737 - 44.3) / W, (bottom - top) / H])
    sns.lineplot(data=df, x="t", y="angle", ax=ax, estimator=None, sort=False,
                 color=GREEN, linewidth=0.6, errorbar=None)
    ax.set_xlim(0, 745)
    ax.set_ylim(*ylim)
    ax.set_xlabel("")
    ax.set_ylabel("")
    ax.patch.set_alpha(0)
    ax.spines["top"].set_visible(False)
    ax.spines["right"].set_visible(False)
    ax.spines["left"].set_color(GREY)
    ax.yaxis.set_major_locator(MultipleLocator(20))
    ax.yaxis.set_minor_locator(MultipleLocator(1))
    ax.tick_params(axis="y", which="major", length=4, width=0.9, color=GREY,
                   labelsize=8, labelcolor="#111111", pad=1.5)
    ax.tick_params(axis="y", which="minor", length=1.8, width=0.5, color=GREY)
    if show_x:
        ax.spines["bottom"].set_color(GREY)
        ax.xaxis.set_major_locator(MultipleLocator(60))
        ax.xaxis.set_minor_locator(MultipleLocator(3))
        ax.tick_params(axis="x", which="major", length=5, width=0.9, color=GREY,
                       labelsize=8, labelcolor="#111111", pad=2)
        ax.tick_params(axis="x", which="minor", length=2, width=0.5, color=GREY)
    else:
        ax.spines["bottom"].set_visible(False)
        ax.tick_params(axis="x", which="both", bottom=False, labelbottom=False)

    fig.text(*fig_xy(10, label_y), "Angular position \u2018" + letter + "\u2019",
             rotation=90, ha="center", va="center", fontsize=7.5, color="#111111")
    fig.text(*fig_xy(24.5, label_y), "(degrees)",
             rotation=90, ha="center", va="center", fontsize=7.5, color="#111111")

fig.text(*fig_xy(50, 17.5), "Healthy subject", ha="left", va="center", fontsize=8.5, color="#111111")
fig.text(*fig_xy(50, 486), "PD patient", ha="left", va="center", fontsize=8.5, color="#111111")

for row_y in [190, 662.5]:
    for name, cx in zip(task_names, task_centres_px):
        fig.text(*fig_xy(cx, row_y), name, ha="center", va="center", fontsize=8.5, color="#111111")

for row_y in [418, 887]:
    fig.text(*fig_xy(733, row_y), "Time (seconds)", ha="right", va="center", fontsize=8.5, color="#111111")

fig.savefig("out.png", dpi=100)
